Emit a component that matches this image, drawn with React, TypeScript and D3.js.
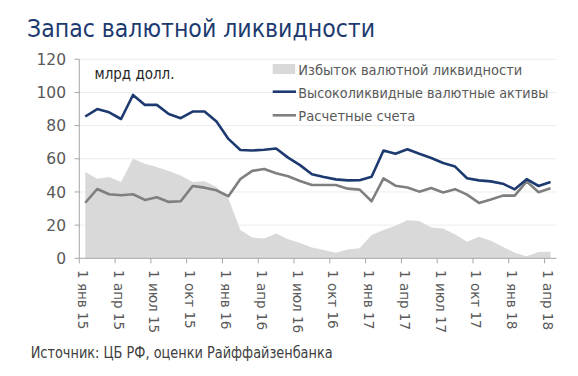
import React from "react";
import * as d3 from "d3";

const months = [
  "Jan15","Feb15","Mar15","Apr15","May15","Jun15","Jul15","Aug15","Sep15","Oct15","Nov15","Dec15",
  "Jan16","Feb16","Mar16","Apr16","May16","Jun16","Jul16","Aug16","Sep16","Oct16","Nov16","Dec16",
  "Jan17","Feb17","Mar17","Apr17","May17","Jun17","Jul17","Aug17","Sep17","Oct17","Nov17","Dec17",
  "Jan18","Feb18","Mar18","Apr18",
];

const excessLiquidity = [
  52, 48, 49, 46, 60, 57, 55, 52.7, 50, 46, 46.5, 43,
  36, 17, 12.5, 12, 15, 11.5, 9.2, 6.5, 5, 3.4, 5.3, 6,
  14, 17, 19.7, 23, 22.5, 18.5, 18, 14.3, 10, 13, 10.6, 7,
  3.3, 1.2, 3.8, 4,
];

const liquidAssets = [
  85.5, 90, 88, 84, 98.5, 92.5, 92.5, 87, 84.5, 88.5, 88.5, 82.5,
  72, 65.3, 65, 65.5, 66.2, 60.7, 56.2, 50.7, 49, 47.6, 47, 47.1,
  49.2, 65, 63, 65.8, 63, 60.5, 57.5, 55.3, 48.3, 47, 46.4, 45,
  41.6, 47.7, 43.6, 46,
];

const settlementAccounts = [
  33.5, 41.8, 38.6, 38, 38.6, 35.2, 36.8, 34, 34.4, 43.6, 42.6, 41,
  37.4, 47.8, 52.7, 53.9, 51.3, 49.5, 46.6, 44.2, 44.2, 44.2, 42, 41.4,
  34.4, 48.2, 43.8, 42.7, 40.2, 42.4, 39.7, 41.7, 38.4, 33.4, 35.4, 37.8,
  37.8, 46.4, 39.8, 42.2,
];

const tickLabels = [
  "1 янв 15","1 апр 15","1 июл 15","1 окт 15",
  "1 янв 16","1 апр 16","1 июл 16","1 окт 16",
  "1 янв 17","1 апр 17","1 июл 17","1 окт 17",
  "1 янв 18","1 апр 18",
];

const yTicks = [0, 20, 40, 60, 80, 100, 120];

const legendLabels = [
  "Избыток валютной ликвидности",
  "Высоколиквидные валютные активы",
  "Расчетные счета",
];

const title = "Запас валютной ликвидности";
const unitLabel = "млрд долл.";
const sourceLabel = "Источник: ЦБ РФ, оценки Райффайзенбанка";

const FONT = "'DejaVu Sans', sans-serif";
const BLUE = "#1d3a70";
const GRAY = "#7f7f7f";
const AREA = "#d9d9d9";

export default function App() {
  const x = d3.scaleBand<string>().domain(months).range([79.3, 556.5]).padding(0);
  const y = d3.scaleLinear().domain([0, 120]).range([258.3, 59.3]);
  const cx = (i: number) => (x(months[i]) as number) + x.bandwidth() / 2;

  const lineGen = d3
    .line<number>()
    .x((_, i) => cx(i))
    .y((d) => y(d));
  const areaGen = d3
    .area<number>()
    .x((_, i) => cx(i))
    .y0(y(0))
    .y1((d) => y(d));

  const tickIdx = tickLabels.map((_, k) => k * 3);

  return (
    <svg
      width={578}
      height={376}
      style={{ position: "absolute", left: 0, top: 0, background: "#fff" }}
      fontFamily={FONT}
    >
      <rect x={0} y={0} width={578} height={376} fill="#fff" />
      <text x={27} y={36.5} fontSize={24} fill={BLUE} textLength={348} lengthAdjust="spacingAndGlyphs">
        {title}
      </text>

      {/* gridlines */}
      {yTicks.slice(1).map((t) => (
        <line key={t} x1={79.3} x2={556.5} y1={y(t)} y2={y(t)} stroke="#ececec" strokeWidth={1} />
      ))}

      {/* area */}
      <path d={areaGen(excessLiquidity) || ""} fill={AREA} />

      {/* lines */}
      <path d={lineGen(settlementAccounts) || ""} fill="none" stroke={GRAY} strokeWidth={2.6} strokeLinejoin="round" />
      <path d={lineGen(liquidAssets) || ""} fill="none" stroke={BLUE} strokeWidth={2.6} strokeLinejoin="round" />

      {/* axes */}
      <line x1={79.3} x2={79.3} y1={y(120)} y2={y(0)} stroke="#a6a6a6" strokeWidth={1} />
      {yTicks.map((t) => (
        <g key={t}>
          <line x1={74.5} x2={79.3} y1={y(t)} y2={y(t)} stroke="#a6a6a6" strokeWidth={1} />
          <text x={66} y={y(t)} dy="0.36em" fontSize={15.5} fill="#595959" textAnchor="end">
            {t}
          </text>
        </g>
      ))}
      <line x1={79.3} x2={556.5} y1={y(0)} y2={y(0)} stroke="#a6a6a6" strokeWidth={1} />
      {tickIdx.map((i, k) => {
        const tx = x(months[i]) as number;
        return (
          <g key={i}>
            <line x1={tx} x2={tx} y1={y(0)} y2={y(0) + 5} stroke="#a6a6a6" strokeWidth={1} />
            <text
              transform={`translate(${tx - 1.5},${270}) rotate(90)`}
              fontSize={13.5}
              fill="#595959"
            >
              {tickLabels[k]}
            </text>
          </g>
        );
      })}

      {/* unit label */}
      <text x={94.5} y={78.5} fontSize={15.5} fill="#262626" textLength={80} lengthAdjust="spacingAndGlyphs">
        {unitLabel}
      </text>

      {/* legend */}
      <rect x={272.7} y={64} width={22.5} height={10} fill={AREA} />
      <text x={298.3} y={74.5} fontSize={13.5} fill="#595959" textLength={224} lengthAdjust="spacingAndGlyphs">
        {legendLabels[0]}
      </text>
      <line x1={272.7} x2={296} y1={91.7} y2={91.7} stroke={BLUE} strokeWidth={2.6} />
      <text x={298.3} y={97.5} fontSize={13.5} fill="#595959" textLength={250} lengthAdjust="spacingAndGlyphs">
        {legendLabels[1]}
      </text>
      <line x1={272.7} x2={296} y1={115.3} y2={115.3} stroke={GRAY} strokeWidth={2.6} />
      <text x={298.3} y={120.5} fontSize={13.5} fill="#595959" textLength={117} lengthAdjust="spacingAndGlyphs">
        {legendLabels[2]}
      </text>

      {/* source */}
      <text x={30.7} y={358.3} fontSize={15} fill="#404040" textLength={302} lengthAdjust="spacingAndGlyphs">
        {sourceLabel}
      </text>
    </svg>
  );
}
